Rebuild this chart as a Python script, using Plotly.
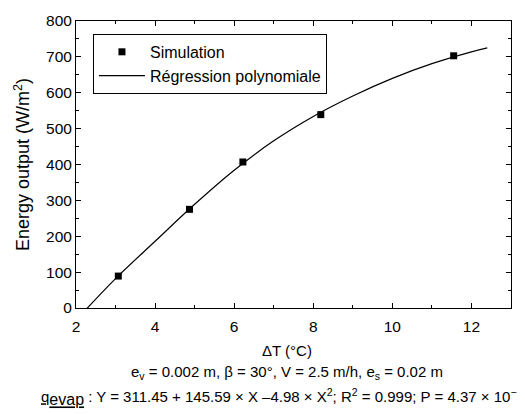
import plotly.graph_objects as go

# Simulation points
sim_x = [3.07, 4.87, 6.22, 8.19, 11.55]
sim_y = [89, 275, 407, 539, 703]

# Polynomial regression curve
reg_x = [2.22, 3, 4, 5, 6, 7, 8, 9, 10, 11, 12, 12.4]
reg_y = [-8, 82, 186, 289, 384, 466, 534, 591, 640, 681, 714, 725]

x_ticks = [2, 4, 6, 8, 10, 12]
y_ticks = [0, 100, 200, 300, 400, 500, 600, 700, 800]

FONT = "Liberation Sans, Arial, Helvetica, sans-serif"

fig = go.Figure()
fig.add_trace(go.Scatter(
    x=sim_x, y=sim_y, mode="markers", name="Simulation",
    marker=dict(symbol="square", size=7, color="black"),
))
fig.add_trace(go.Scatter(
    x=reg_x, y=reg_y, mode="lines", name="Régression polynomiale",
    line=dict(color="black", width=1.2, shape="spline", smoothing=1.0),
))

axis_common = dict(
    showgrid=False, zeroline=False, showline=True, linecolor="black", linewidth=1,
    mirror="ticks", ticks="inside", ticklen=5, tickwidth=1, tickcolor="black",
    tickfont=dict(family=FONT, size=15.5, color="black"),
)
fig.update_xaxes(range=[2, 13], tickvals=x_ticks, ticklabelstandoff=4,
                 minor=dict(dtick=1, ticks="inside", ticklen=3, tickcolor="black"),
                 **axis_common)
fig.update_yaxes(range=[0, 800], tickvals=y_ticks,
                 minor=dict(dtick=50, ticks="inside", ticklen=3, tickcolor="black"),
                 title=dict(text="Energy output (W/m<sup>2</sup>)",
                            font=dict(family=FONT, size=18, color="black"), standoff=11),
                 **axis_common)

anns = [
    ("ΔT (°C)", -42),
    ("e<sub>v</sub> = 0.002 m, β = 30°, V = 2.5 m/h, e<sub>s</sub> = 0.02 m", -64),
]
for txt, ys in anns:
    fig.add_annotation(text=txt, xref="paper", yref="paper", x=0.485, y=0,
                       xanchor="center", yanchor="middle", yshift=ys, showarrow=False,
                       font=dict(family=FONT, size=15, color="black"))
fig.add_annotation(
    text="<u>q<sub><span style='font-size:16px'>evap</span></sub></u> : Y = 311.45 + 145.59 × X –4.98 × X<sup>2</sup>; R<sup>2</sup> = 0.999; P = 4.37 × 10<sup>−</sup>",
    xref="paper", yref="paper", x=(39 - 76) / 435, y=0, xanchor="left", yanchor="middle",
    yshift=-89, showarrow=False, font=dict(family=FONT, size=15, color="black"))

fig.update_layout(
    width=525, height=414,
    margin=dict(l=76, r=14, t=21, b=106),
    paper_bgcolor="white", plot_bgcolor="white",
    font=dict(family=FONT, size=15, color="black"),
    showlegend=True,
    legend=dict(x=0.039, y=0.955, xanchor="left", yanchor="top",
                bordercolor="black", borderwidth=1, bgcolor="white",
                font=dict(family=FONT, size=16, color="black"),
                tracegroupgap=0, itemwidth=46),
)

fig.write_html("out.html")
